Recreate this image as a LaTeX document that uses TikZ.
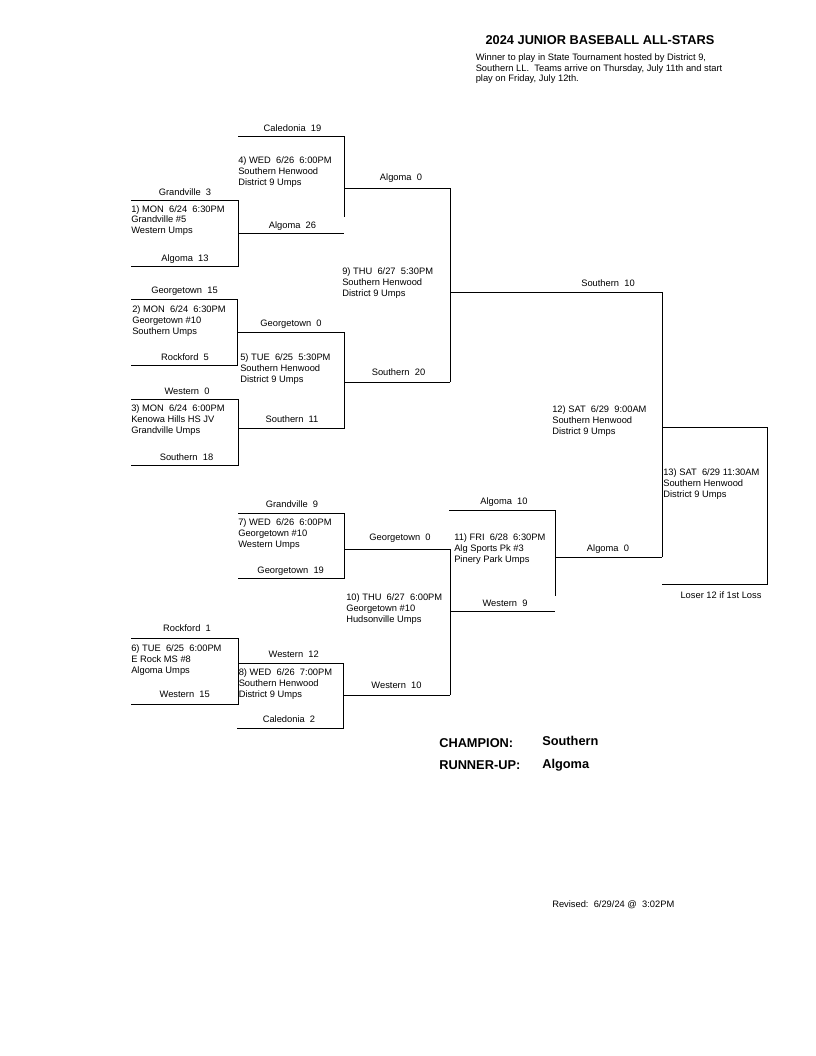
\documentclass[tikz,border=0pt]{standalone}
\usepackage{fontspec}
\setmainfont{Liberation Sans}
\usetikzlibrary{positioning}
\newcommand{\tsz}{\fontsize{7}{8.1}\selectfont}
\newcommand{\bsz}{\fontsize{9.6}{11}\selectfont\bfseries}

\begin{document}
\begin{tikzpicture}[x=0.75pt,y=-0.75pt]
	\tikzset{
		brk/.style={draw=black, line width=0.7pt},
		team/.style={font=\tsz, anchor=mid, inner sep=0pt},
		info/.style={font=\tsz, align=left, anchor=base west, inner sep=0pt},
		head/.style={font=\bsz, anchor=mid west, inner sep=0pt}
	}
	\useasboundingbox (0,0) rectangle (816,1056);
	
	% ======= Title =======
	\node[font=\bsz, anchor=mid, inner sep=0pt] (title) at (600,41.3) {2024 JUNIOR BASEBALL ALL-STARS};
	\node[info] (note) at (475.5,82) {Winner to play in State Tournament hosted by District 9,\\Southern LL.~~Teams arrive on Thursday, July 11th and start\\play on Friday, July 12th.};
	
	% ======= Game 1 =======
	\coordinate (g1a) at (131,200); \coordinate (g1b) at (238,200);
	\coordinate (g1c) at (238,266); \coordinate (g1d) at (131,266);
	\draw[brk] (g1a) -- (g1b) -- (g1c) -- (g1d);
	\node[team] (t1a) at (185,191.5) {Grandville~~3};
	\node[team] (t1b) at (185,257.5) {Algoma~~13};
	\node[info] (i1) at (131,233.6) {1) MON~~6/24~~6:30PM\\Grandville \#5\\Western Umps};
	
	% ======= Game 4 =======
	\coordinate (g4a) at (238,136); \coordinate (g4b) at (344,136);
	\coordinate (g4c) at (344,217);
	\coordinate (g4d) at (238,233); \coordinate (g4e) at (344,233);
	\coordinate (g4w) at (344,188); \coordinate (g4x) at (450,188);
	\draw[brk] (g4a) -- (g4b) -- (g4c);
	\draw[brk] (g4d) -- (g4e);
	\draw[brk] (g4w) -- (g4x);
	\node[team] (t4a) at (292.5,127.5) {Caledonia~~19};
	\node[team] (t4b) at (292.5,225) {Algoma~~26};
	\node[team] (t4w) at (401,177) {Algoma~~0};
	\node[info] (i4) at (238,185) {4) WED~~6/26~~6:00PM\\Southern Henwood\\District 9 Umps};
	
	% ======= Game 2 =======
	\coordinate (g2a) at (131,299); \coordinate (g2b) at (237,299);
	\coordinate (g2c) at (237,365); \coordinate (g2d) at (131,365);
	\coordinate (g2w) at (237,332);
	\draw[brk] (g2a) -- (g2b) -- (g2c) -- (g2d);
	\node[team] (t2a) at (184.5,290) {Georgetown~~15};
	\node[team] (t2b) at (185,357) {Rockford~~5};
	\node[info] (i2) at (132,334) {2) MON~~6/24~~6:30PM\\Georgetown \#10\\Southern Umps};
	
	% ======= Game 5 =======
	\coordinate (g5a) at (344,332); \coordinate (g5b) at (344,428);
	\coordinate (g5c) at (238,428);
	\coordinate (g5w) at (344,382); \coordinate (g5x) at (450,382);
	\draw[brk] (g2w) -- (g5a) -- (g5b) -- (g5c);
	\draw[brk] (g5w) -- (g5x);
	\node[team] (t5a) at (291,323) {Georgetown~~0};
	\node[team] (t5b) at (292,419) {Southern~~11};
	\node[team] (t5w) at (398.5,372) {Southern~~20};
	\node[info] (i5) at (240,382) {5) TUE~~6/25~~5:30PM\\Southern Henwood\\District 9 Umps};
	
	% ======= Game 3 =======
	\coordinate (g3a) at (131,399); \coordinate (g3b) at (238,399);
	\coordinate (g3c) at (238,465); \coordinate (g3d) at (131,465);
	\draw[brk] (g3a) -- (g3b) -- (g3c) -- (g3d);
	\node[team] (t3a) at (187,391) {Western~~0};
	\node[team] (t3b) at (186.5,457) {Southern~~18};
	\node[info] (i3) at (131,433) {3) MON~~6/24~~6:00PM\\Kenowa Hills HS JV\\Grandville Umps};
	
	% ======= Game 9 =======
	\coordinate (g9w) at (450,292); \coordinate (g9x) at (662,292);
	\draw[brk] (g4x) -- (g5x);
	\draw[brk] (g9w) -- (g9x);
	\node[team] (t9w) at (608,283) {Southern~~10};
	\node[info] (i9) at (342,296) {9) THU~~6/27~~5:30PM\\Southern Henwood\\District 9 Umps};
	
	% ======= Game 12 =======
	\coordinate (g12b) at (662,557);
	\coordinate (g12w) at (662,427); \coordinate (g12x) at (767,427);
	\draw[brk] (g9x) -- (g12b);
	\draw[brk] (g12w) -- (g12x);
	\node[info] (i12) at (552,434) {12) SAT~~6/29~~9:00AM\\Southern Henwood\\District 9 Umps};
	
	% ======= Game 13 =======
	\coordinate (g13b) at (767,584); \coordinate (g13c) at (662,584);
	\draw[brk] (g12x) -- (g13b) -- (g13c);
	\node[team] (t13) at (721,595) {Loser 12 if 1st Loss};
	\node[info] (i13) at (663,497) {13) SAT~~6/29 11:30AM\\Southern Henwood\\District 9 Umps};
	
	% ======= Game 11 =======
	\coordinate (g11a) at (449,510); \coordinate (g11b) at (555,510);
	\coordinate (g11c) at (555,596);
	\coordinate (g11w) at (555,557);
	\draw[brk] (g11a) -- (g11b) -- (g11c);
	\draw[brk] (g11w) -- (g12b);
	\node[team] (t11a) at (504,501) {Algoma~~10};
	\node[team] (t11b) at (505,603) {Western~~9};
	\node[team] (t11w) at (608,548) {Algoma~~0};
	\node[info] (i11) at (454,562) {11) FRI~~6/28~~6:30PM\\Alg Sports Pk \#3\\Pinery Park Umps};
	
	% ======= Game 7 =======
	\coordinate (g7a) at (238,513); \coordinate (g7b) at (344,513);
	\coordinate (g7c) at (344,578); \coordinate (g7d) at (238,578);
	\coordinate (g7w) at (344,549); \coordinate (g7x) at (450,549);
	\draw[brk] (g7a) -- (g7b) -- (g7c) -- (g7d);
	\draw[brk] (g7w) -- (g7x);
	\node[team] (t7a) at (292,504) {Grandville~~9};
	\node[team] (t7b) at (290.7,570) {Georgetown~~19};
	\node[team] (t7w) at (400,537) {Georgetown~~0};
	\node[info] (i7) at (238,547) {7) WED~~6/26~~6:00PM\\Georgetown \#10\\Western Umps};
	
	% ======= Game 6 =======
	\coordinate (g6a) at (131,638); \coordinate (g6b) at (238,638);
	\coordinate (g6c) at (238,704); \coordinate (g6d) at (131,704);
	\draw[brk] (g6a) -- (g6b) -- (g6c) -- (g6d);
	\node[team] (t6a) at (187,628) {Rockford~~1};
	\node[team] (t6b) at (184.7,694) {Western~~15};
	\node[info] (i6) at (131,673) {6) TUE~~6/25~~6:00PM\\E Rock MS \#8\\Algoma Umps};
	
	% ======= Game 8 =======
	\coordinate (g8a) at (238,663); \coordinate (g8b) at (343,663);
	\coordinate (g8c) at (343,728); \coordinate (g8d) at (237,728);
	\coordinate (g8w) at (343,695); \coordinate (g8x) at (450,695);
	\draw[brk] (g8a) -- (g8b) -- (g8c) -- (g8d);
	\draw[brk] (g8w) -- (g8x);
	\node[team] (t8a) at (293.7,654) {Western~~12};
	\node[team] (t8b) at (289,719) {Caledonia~~2};
	\node[team] (t8w) at (396.5,685) {Western~~10};
	\node[info] (i8) at (238.5,697) {8) WED~~6/26~~7:00PM\\Southern Henwood\\District 9 Umps};
	
	% ======= Game 10 =======
	\coordinate (g10w) at (451,611); \coordinate (g10x) at (555,611);
	\draw[brk] (g7x) -- (g8x);
	\draw[brk] (g10w) -- (g10x);
	\node[info] (i10) at (346,622) {10) THU~~6/27~~6:00PM\\Georgetown \#10\\Hudsonville Umps};
	
	% ======= Result =======
	\node[head] (champ) at (439,744) {CHAMPION:};
	\node[head] (champn) at (542,742) {Southern};
	\node[head] (runner) at (439,766) {RUNNER-UP:};
	\node[head] (runnern) at (542,765) {Algoma};
	\node[team, anchor=mid west] (rev) at (552,904) {Revised:~~6/29/24 @~~3:02PM};
	
\end{tikzpicture}
\end{document}
